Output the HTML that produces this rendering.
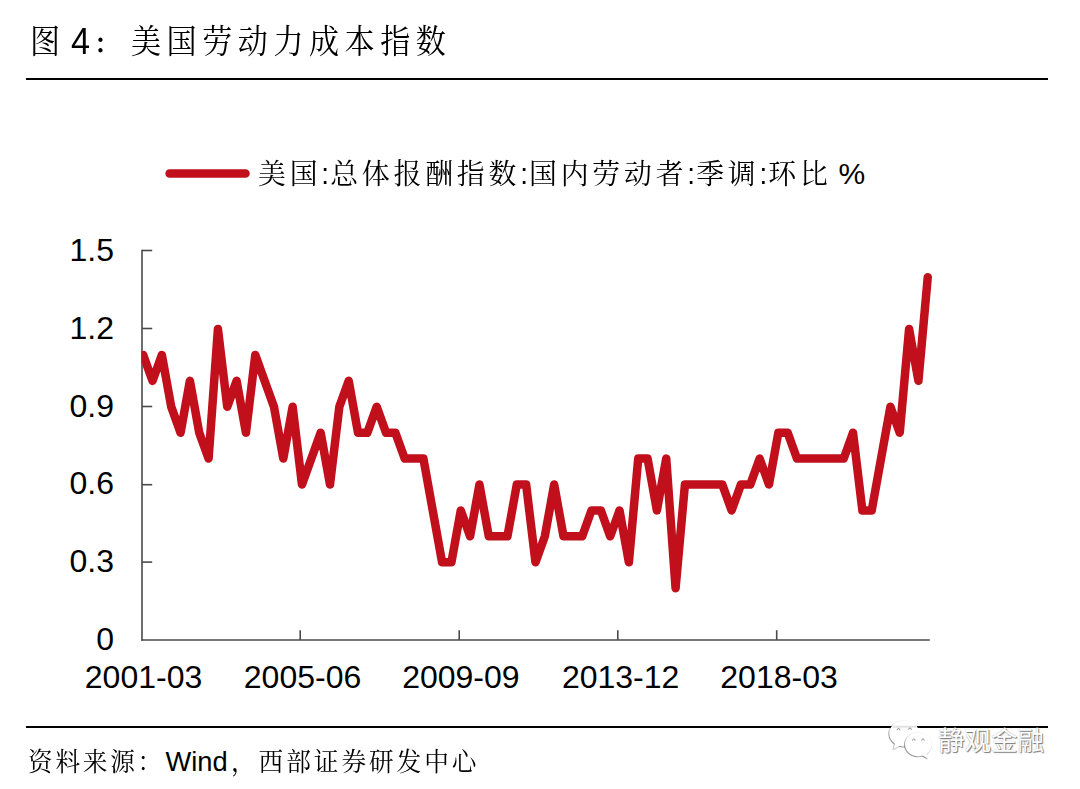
<!DOCTYPE html>
<html lang="zh-CN">
<head>
<meta charset="utf-8">
<title>图 4：美国劳动力成本指数</title>
<style>
html,body{margin:0;padding:0;background:#fff;}
body{width:1080px;height:789px;position:relative;overflow:hidden;font-family:"Liberation Sans","Noto Serif CJK SC",serif;color:#000;}
.abs{position:absolute;white-space:nowrap;}
.k{display:inline-block;transform-origin:0 50%;}
.title{left:29.8px;top:17.8px;font-size:35px;line-height:48px;height:48px;}
.title .k{transform:scale(.86,.94);letter-spacing:6.4px;}
.tc{font-size:28px;font-weight:700;top:21.3px;}
.t4{left:71.2px;top:17.5px;font-size:37px;line-height:48px;height:48px;font-family:"Liberation Sans",sans-serif;transform:scaleX(.925);transform-origin:0 50%;}
.rule{position:absolute;left:25.8px;width:1022.45px;height:2px;background:#000;}
.legend{left:257.6px;top:151.5px;font-size:31.7px;line-height:44px;height:44px;}
.legend .k{transform:scale(.88,.91);letter-spacing:4.3px;}
.legend i{font-style:normal;letter-spacing:1.2px;}
.pct{left:838.5px;top:151.5px;font-size:30px;line-height:44px;height:44px;font-family:"Liberation Sans",sans-serif;}
.yl{position:absolute;left:40px;width:74px;text-align:right;font-size:32px;line-height:37px;height:37px;font-family:"Liberation Sans",sans-serif;}
.xl{position:absolute;top:659.3px;width:160px;text-align:center;font-size:32px;line-height:37px;height:37px;font-family:"Liberation Sans",sans-serif;}
.src{top:743.8px;font-size:27.4px;line-height:38px;height:38px;}
.src .k{transform:scale(.9,.94);letter-spacing:3.04px;}
.s2 .k{letter-spacing:3.27px !important;}
.en{margin-top:-1.3px;font-family:"Liberation Sans",sans-serif;font-size:27.3px;}
.wm{left:938px;top:722px;font-size:26.5px;line-height:38px;font-family:"Liberation Sans","Noto Sans CJK SC",sans-serif;color:#fff;text-shadow:1px 1px 1px #777,0 0 1px #999;}
svg{position:absolute;left:0;top:0;}
</style>
</head>
<body>
<div class="abs title"><span class="k">图</span></div>
<div class="abs t4">4</div>
<div class="abs title tc" style="left:94.2px"><span class="k">：</span></div>
<div class="abs title" style="left:130.7px"><span class="k">美国劳动力成本指数</span></div>
<div class="rule" style="top:78.05px"></div>
<div class="abs legend"><span class="k">美国<i>:</i>总体报酬指数<i>:</i>国内劳动者<i>:</i>季调<i>:</i>环比</span></div>
<div class="abs pct">%</div>
<div class="yl" style="top:621.3px">0</div><div class="yl" style="top:543.4px">0.3</div><div class="yl" style="top:465.4px">0.6</div><div class="yl" style="top:387.5px">0.9</div><div class="yl" style="top:309.5px">1.2</div><div class="yl" style="top:231.6px">1.5</div>
<div class="xl" style="left:63.5px">2001-03</div><div class="xl" style="left:222.5px">2005-06</div><div class="xl" style="left:380.9px">2009-09</div><div class="xl" style="left:540.6px">2013-12</div><div class="xl" style="left:699.0px">2018-03</div>
<svg width="1080" height="789" viewBox="0 0 1080 789">
<defs><clipPath id="plot"><rect x="141.4" y="200" width="800" height="445"/></clipPath></defs>
<g stroke="#4a4a4a" stroke-width="1.6" fill="none">
<line x1="142.0" y1="249.750" x2="142.0" y2="640.750"/>
<line x1="141.250" y1="640.0" x2="929.8" y2="640.0"/>
<line x1="142.0" y1="562.1" x2="152.2" y2="562.1"/><line x1="142.0" y1="484.7" x2="152.2" y2="484.7"/><line x1="142.0" y1="406.5" x2="152.2" y2="406.5"/><line x1="142.0" y1="328.5" x2="152.2" y2="328.5"/><line x1="142.0" y1="250.5" x2="152.2" y2="250.5"/>
<line x1="300.2" y1="630.2" x2="300.2" y2="640.0"/><line x1="459.2" y1="630.2" x2="459.2" y2="640.0"/><line x1="617.8" y1="630.2" x2="617.8" y2="640.0"/><line x1="776.7" y1="630.2" x2="776.7" y2="640.0"/>
</g>
<line x1="169.6" y1="173.4" x2="245.5" y2="173.4" stroke="#C1101C" stroke-width="8.5" stroke-linecap="round"/>
<polyline clip-path="url(#plot)" points="143.20,354.95 152.54,380.87 161.88,354.95 171.22,406.78 180.56,432.69 189.90,380.87 199.24,432.69 208.58,458.61 217.92,329.04 227.26,406.78 236.60,380.87 245.94,432.69 255.28,354.95 264.62,380.87 273.96,406.78 283.30,458.61 292.64,406.78 301.98,484.52 311.32,458.61 320.66,432.69 330.00,484.52 339.34,406.78 348.68,380.87 358.02,432.69 367.36,432.69 376.70,406.78 386.04,432.69 395.38,432.69 404.72,458.61 414.06,458.61 423.40,458.61 432.74,510.43 442.08,562.26 451.42,562.26 460.76,510.43 470.10,536.35 479.44,484.52 488.78,536.35 498.12,536.35 507.46,536.35 516.80,484.52 526.14,484.52 535.48,562.26 544.82,536.35 554.16,484.52 563.50,536.35 572.84,536.35 582.18,536.35 591.52,510.43 600.86,510.43 610.20,536.35 619.54,510.43 628.88,562.26 638.22,458.61 647.56,458.61 656.90,510.43 666.24,458.61 675.58,588.17 684.92,484.52 694.26,484.52 703.60,484.52 712.94,484.52 722.28,484.52 731.62,510.43 740.96,484.52 750.30,484.52 759.64,458.61 768.98,484.52 778.32,432.69 787.66,432.69 797.00,458.61 806.34,458.61 815.68,458.61 825.02,458.61 834.36,458.61 843.70,458.61 853.04,432.69 862.38,510.43 871.72,510.43 881.06,458.61 890.40,406.78 899.74,432.69 909.08,329.04 918.42,380.87 927.76,277.21" fill="none" stroke="#C1101C" stroke-width="8.5" stroke-linejoin="round" stroke-linecap="round"/>
</svg>
<div class="rule" style="top:725.650px"></div>
<svg width="1080" height="789" viewBox="0 0 1080 789">
<defs><filter id="sh" x="-20%" y="-20%" width="140%" height="140%"><feDropShadow dx="-0.5" dy="0.6" stdDeviation="0.45" flood-color="#222" flood-opacity="0.85"/></filter></defs>
<g fill="#fff" filter="url(#sh)">
<path d="M904.3 720.6c-8.300 0-15 5.800-15 13 0 4.100 2.200 7.700 5.700 10.100l-1.500 5.600 6-3.500c1.500.5 3.100.8 4.800.8 8.300 0 15-5.800 15-13s-6.700-13-15-13z"/>
</g>
<g fill="#fff" filter="url(#sh)">
<path d="M918.400 732.200c-7.400 0-13.400 5.400-13.400 12s6 12 13.400 12c1.500 0 2.900-.2 4.200-.6l5.400 3-1.300-4.700c3.100-2.200 5.100-5.600 5.100-9.700 0-6.600-6-12-13.400-12z"/>
</g>
<rect x="892.600" y="725.700" width="23.800" height="2" fill="#e2e2e2"/>
<g fill="none" stroke="#777" stroke-width="0.800" stroke-linecap="round">
<path d="M897.200 729.800a1.400 1.400 0 0 1 2.800 0"/><path d="M908.600 729.400a1.400 1.400 0 0 1 2.800 0"/>
<path d="M912.500 740.200a1.300 1.300 0 0 1 2.600 0"/><path d="M921.700 740.200a1.300 1.300 0 0 1 2.600 0"/>
</g>
</svg>
<div class="abs src" style="left:28.2px"><span class="k">资料来源：</span></div>
<div class="abs src en" style="left:165.4px">Wind</div>
<div class="abs src s2" style="left:230.9px"><span class="k">，西部证券研发中心</span></div>
<div class="abs wm">静观金融</div>
</body>
</html>
